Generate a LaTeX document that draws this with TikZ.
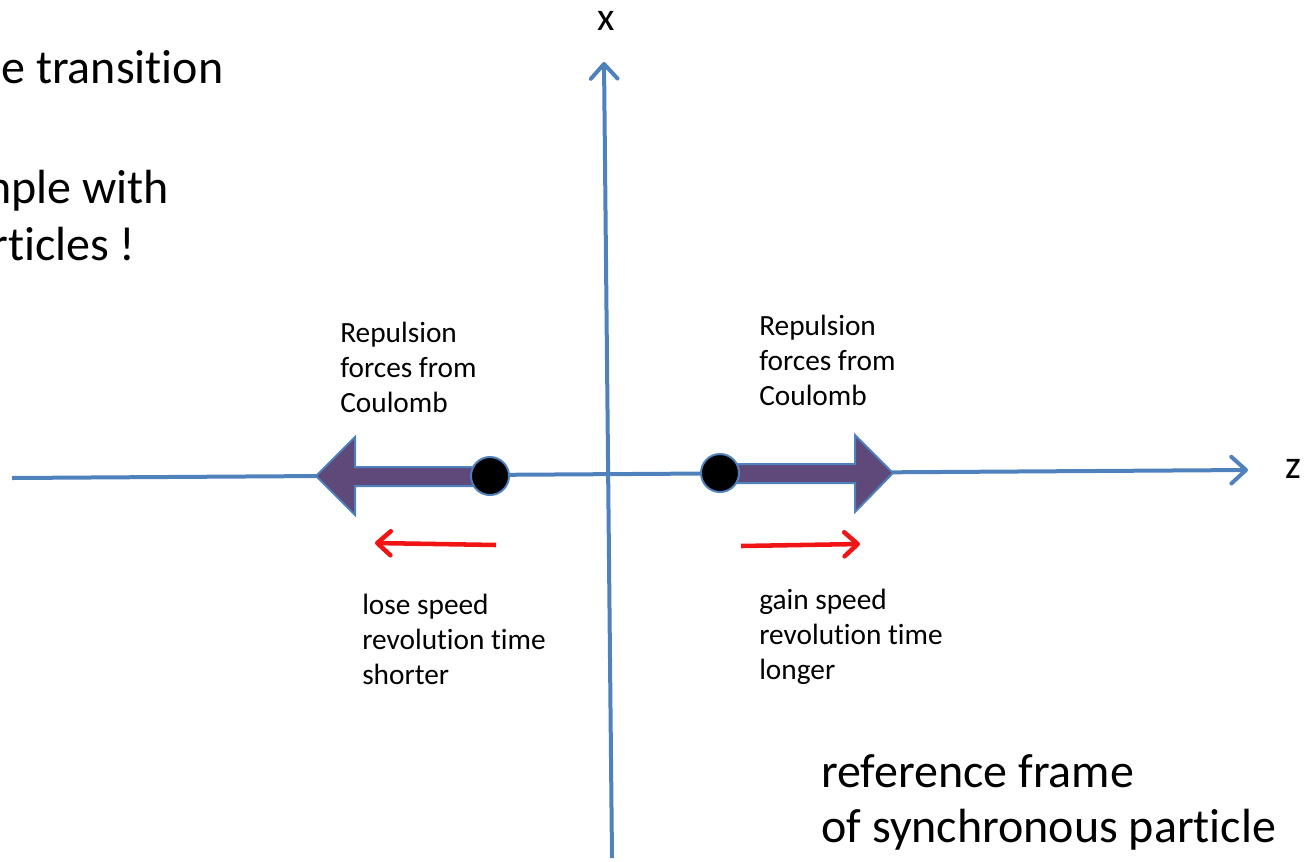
\documentclass[tikz,border=0pt]{standalone}
\usepackage{fontspec}
\setmainfont{Carlito}[Ligatures=NoCommon]
\usepackage{tikz}
\usetikzlibrary{arrows.meta,positioning}
\definecolor{axe}{RGB}{79,129,189}
\definecolor{poussee}{RGB}{95,73,122}
\definecolor{vitesse}{RGB}{240,20,20}

\begin{document}
\begin{tikzpicture}[x=0.75pt,y=-0.75pt,
    axis/.style={axe,line width=3pt,-{Straight Barb[length=11pt,width=20pt,line cap=round,line join=round]}},
    speedarrow/.style={vitesse,line width=3.4pt,-{Straight Barb[length=10pt,width=18pt,line cap=round,line join=round]}},
    bigarrow/.style={fill=poussee,draw=axe,line width=1.5pt,line join=miter},
    charge/.style={circle,fill=black,draw=axe,line width=1.5pt,minimum size=28.5pt,inner sep=0pt},
    bigtext/.style={font=\fontsize{36}{41.25}\selectfont,align=left,anchor=base west,inner sep=0pt},
    smalltext/.style={font=\fontsize{22}{26.25}\selectfont,align=left,anchor=base west,inner sep=0pt},
    axislabel/.style={font=\fontsize{30}{34}\selectfont,anchor=base,inner sep=0pt}]
  \useasboundingbox (0,0) rectangle (1305,861);
  % axes
  \coordinate (zstart) at (12,478);
  \coordinate (zend) at (1248,470);
  \coordinate (xstart) at (612,858);
  \coordinate (xend) at (604,62);
  \draw[axis] (zstart) -- (zend);
  \draw[axis] (xstart) -- (xend);
  \node[axislabel] (xlab) at (606,30) {x};
  \node[axislabel] (zlab) at (1293,478) {z};
  % Coulomb push
  \filldraw[bigarrow] (490,467) -- (355,467) -- (355,437) -- (316,476)
    -- (355,515) -- (355,486) -- (490,486) -- cycle;
  \filldraw[bigarrow] (720,464) -- (855,464) -- (855,435) -- (893,473)
    -- (855,512) -- (855,483) -- (720,483) -- cycle;
  \node[charge] (chargeL) at (490,476) {};
  \node[charge] (chargeR) at (720,473) {};
  % speed change
  \coordinate (leftfrom) at (496,545);
  \coordinate (leftto) at (375,543);
  \coordinate (rightfrom) at (741,546);
  \coordinate (rightto) at (860,544);
  \draw[speedarrow] (leftfrom) -- (leftto);
  \draw[speedarrow] (rightfrom) -- (rightto);
  % labels (base = last line)
  \node[smalltext] (forceL) at (340,412) {Repulsion\\forces from\\Coulomb};
  \node[smalltext] (forceR) at (759,405) {Repulsion\\forces from\\Coulomb};
  \node[smalltext] (loseL) at (362,684) {lose speed\\revolution time\\shorter};
  \node[smalltext] (gainR) at (759,679) {gain speed\\revolution time\\longer};
  \node[bigtext] (frame) at (821,842) {reference frame\\of synchronous particle};
  % slide text cut at the left edge
  \node[bigtext] (trans) at (1,83) {e transition};
  \node[bigtext] (sample) at (-14,203) {nple with};
  \node[bigtext] (particles) at (-9,260) {rticles !};
\end{tikzpicture}
\end{document}
